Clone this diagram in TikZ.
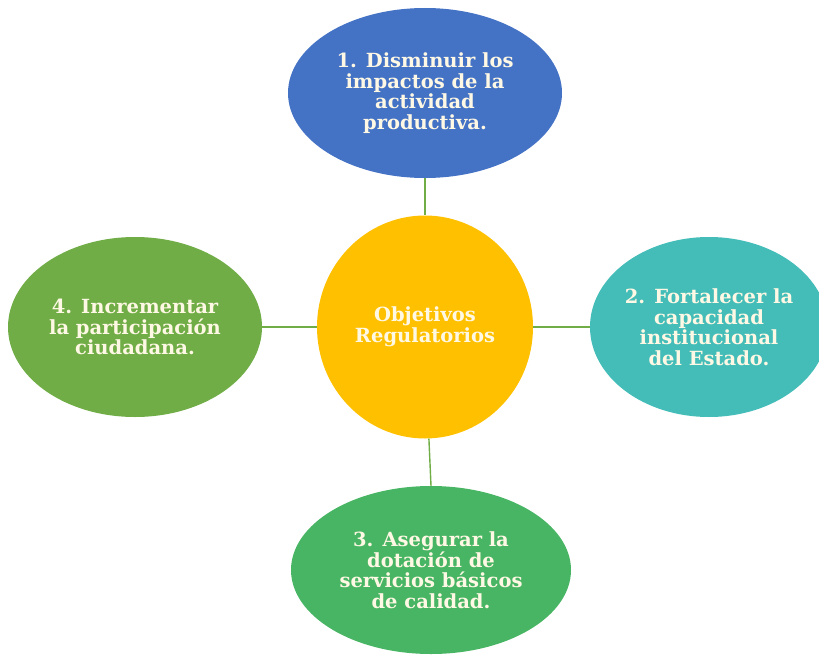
\documentclass[tikz,border=0pt]{standalone}
\usepackage{fontspec}
\setmainfont{DejaVu Serif}
\usetikzlibrary{shapes.geometric}
\definecolor{cblue}{HTML}{4472C4}
\definecolor{corange}{HTML}{FFC000}
\definecolor{cteal}{HTML}{44BDB9}
\definecolor{cgreenL}{HTML}{70AD47}
\definecolor{cgreenB}{HTML}{48B564}
\definecolor{ctext}{HTML}{FFF8E4}
\definecolor{cline}{HTML}{70AD47}
\tikzset{
  blob/.style={ellipse, inner sep=0pt, align=center, text=ctext,
    font=\bfseries\fontsize{19.5}{20.5}\selectfont},
  link/.style={draw=cline, line width=1.4pt}
}
\begin{document}
\begin{tikzpicture}[x=1pt,y=-1pt]
\useasboundingbox (0,0) rectangle (819,661);
\node[blob, fill=cblue, minimum width=274pt, minimum height=170pt] (top) at (425,93)
  {1. Disminuir los\\impactos de la\\actividad\\productiva.};
\node[blob, fill=cgreenL, minimum width=254pt, minimum height=180pt] (left) at (135,327)
  {4. Incrementar\\la participación\\ciudadana.};
\node[blob, fill=cteal, minimum width=234pt, minimum height=180pt] (right) at (709,327)
  {2. Fortalecer la\\capacidad\\institucional\\del Estado.};
\node[blob, fill=cgreenB, minimum width=280pt, minimum height=168pt] (bottom) at (431,570)
  {3. Asegurar la\\dotación de\\servicios básicos\\de calidad.};
\node[blob, fill=corange, minimum width=216pt, minimum height=223pt] (center) at (425,327)
  {Objetivos\\Regulatorios};
\draw[link] (top.south) -- (center.north);
\draw[link] (center.272) -- (bottom.north);
\draw[link] (left.east) -- (center.west);
\draw[link] (center.east) -- (right.west);
\end{tikzpicture}
\end{document}
